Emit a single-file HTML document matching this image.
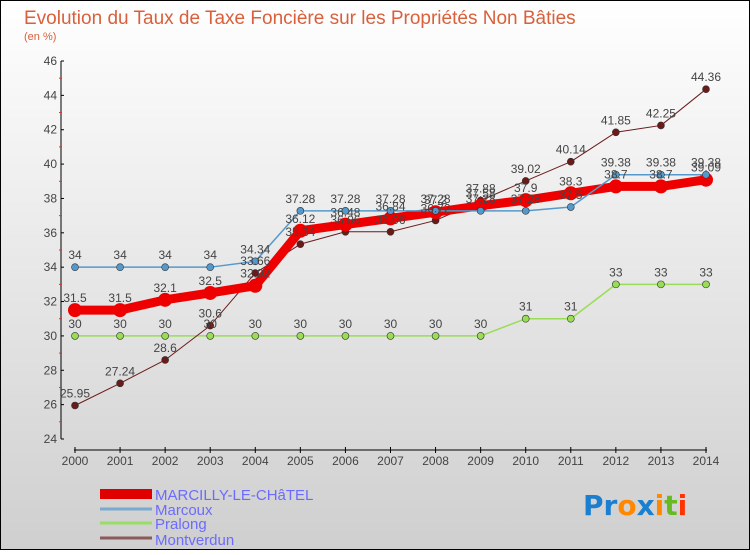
<!DOCTYPE html>
<html><head><meta charset="utf-8"><style>
body{margin:0;width:750px;height:550px;overflow:hidden;font-family:"Liberation Sans",sans-serif}
</style></head><body>
<svg id="c" width="750" height="550" xmlns="http://www.w3.org/2000/svg">
<defs><linearGradient id="bg" x1="0" y1="0" x2="0" y2="1"><stop offset="0" stop-color="#ffffff"/><stop offset="1" stop-color="#cfcfcf"/></linearGradient></defs>
<rect x="0.5" y="0.5" width="749" height="549" fill="url(#bg)" stroke="#000"/>
<text x="24" y="24" font-size="19" fill="#d9603b">Evolution du Taux de Taxe Foncière sur les Propriétés Non Bâties</text>
<text x="24" y="40" font-size="11" fill="#d9603b">(en %)</text>
<g id="grid"></g><g id="axes"></g><g id="series"></g><g id="labels"></g>
<g font-size="15" fill="#6b6bff">
<rect x="100" y="489" width="52" height="10" fill="#e00000"/>
<text x="155" y="500">MARCILLY-LE-CHâTEL</text>
<line x1="100" y1="509" x2="152" y2="509" stroke="#7aaad0" stroke-width="3"/>
<line x1="100" y1="523" x2="152" y2="523" stroke="#99dd66" stroke-width="3"/>
<line x1="100" y1="538" x2="152" y2="538" stroke="#8b5a5a" stroke-width="3"/>
<text x="155" y="515">Marcoux</text>
<text x="155" y="529">Pralong</text>
<text x="155" y="545">Montverdun</text>
</g>
<g font-size="28" font-family="'DejaVu Sans',sans-serif" font-weight="bold">
<text x="583" y="515"><tspan fill="#1a7fd0">Pr</tspan><tspan fill="#ff8800">o</tspan><tspan fill="#1a7fd0">x</tspan><tspan fill="#ff8800">i</tspan><tspan fill="#66bb22">t</tspan><tspan fill="#ff3300">i</tspan></text>
</g>
</svg>
<script>
const years=[2000,2001,2002,2003,2004,2005,2006,2007,2008,2009,2010,2011,2012,2013,2014];
const marcilly=[31.5,31.5,32.1,32.5,32.92,36.12,36.48,36.84,37.2,37.58,37.9,38.3,38.7,38.7,39.09];
const marcoux=[34,34,34,34,34.34,37.28,37.28,37.28,37.28,37.28,37.28,37.5,39.38,39.38,39.38];
const pralong=[30,30,30,30,30,30,30,30,30,30,31,31,33,33,33];
const montverdun=[25.95,27.24,28.6,30.6,33.66,35.34,36.06,36.06,36.72,37.88,39.02,40.14,41.85,42.25,44.36];
const yTicks=[24,26,28,30,32,34,36,38,40,42,44,46];
const NS="http://www.w3.org/2000/svg";
const X0=75,X1=706,Y0=439,Y1=61,VMIN=24,VMAX=46,AX=61,XAY=450;
const xs=i=>X0+(X1-X0)*i/(years.length-1);
const ys=v=>Y0-(v-VMIN)*(Y0-Y1)/(VMAX-VMIN);
function mk(tag,attrs,parent){const e=document.createElementNS(NS,tag);for(const k in attrs)e.setAttribute(k,attrs[k]);document.getElementById(parent).appendChild(e);return e;}
let a=mk('line',{x1:AX,y1:Y1,x2:AX,y2:Y0,stroke:'#000','stroke-width':1},'axes');


a=mk('line',{x1:X0-1,y1:XAY,x2:X1+1,y2:XAY,stroke:'#000','stroke-width':1},'axes');


yTicks.forEach(v=>{
 const t=mk('text',{x:AX-4,y:ys(v)+4,'font-size':12,fill:'#444','text-anchor':'end'},'axes');t.textContent=v;
 
 
 mk('line',{x1:AX,y1:ys(v),x2:AX+3,y2:ys(v),stroke:'#000'},'axes');
});
for(let v=VMIN+1;v<VMAX;v+=2){mk('line',{x1:AX-2,y1:ys(v),x2:AX+1,y2:ys(v),stroke:'#e03030'},'axes');}
years.forEach((y,i)=>{
 mk('line',{x1:xs(i),y1:XAY-3,x2:xs(i),y2:XAY+3,stroke:'#000'},'axes');
 const t=mk('text',{x:xs(i),y:XAY+15,'font-size':12,fill:'#444','text-anchor':'middle'},'axes');t.textContent=y;
 
 
});
function series(vals,color,w,r,name){
 const pts=vals.map((v,i)=>xs(i)+','+ys(v)).join(' ');
 const p=mk('polyline',{points:pts,fill:'none',stroke:color,'stroke-width':w,'stroke-linejoin':'round'},'series');
 
 
 vals.forEach((v,i)=>{
  const c=mk('circle',{cx:xs(i),cy:ys(v),r:r,fill:color,stroke:'#333','stroke-width':r>5?0:0.6},'series');
  
  
  const t=mk('text',{x:xs(i),y:ys(v)-8,'font-size':12,fill:'#444','text-anchor':'middle'},'labels');
  t.textContent=v;
  
  
 });
}
series(pralong,'#99dd55',1.5,3.5,'pralong');
series(montverdun,'#6b1a1a',1,3.5,'montverdun');
series(marcilly,'#ee0000',9,7,'marcilly');
series(marcoux,'#5599cc',1.5,3.5,'marcoux');
</script>
</body></html>
